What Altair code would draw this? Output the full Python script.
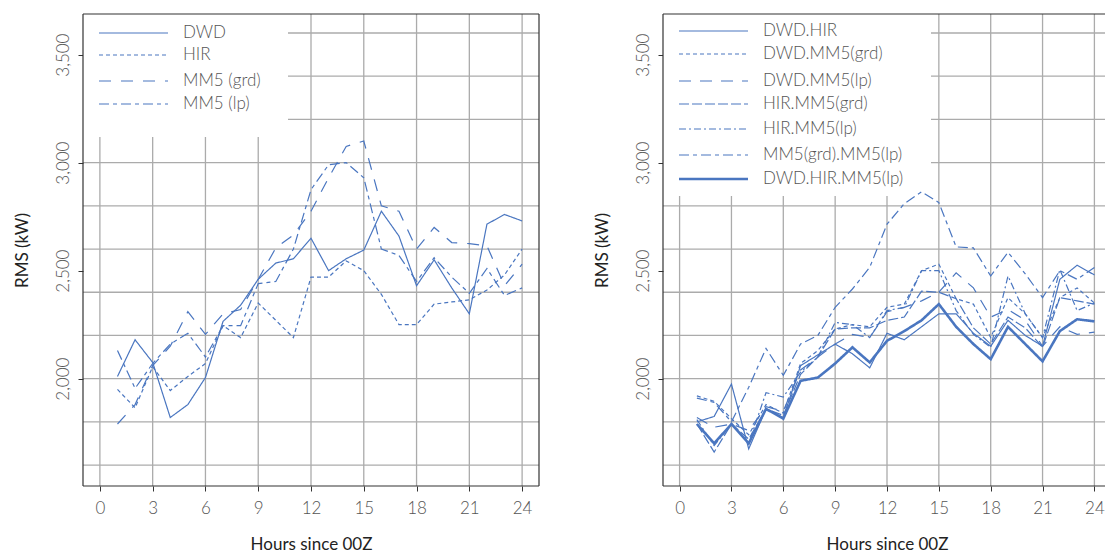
import altair as alt
import pandas as pd

# ---------------- data ----------------
hours = list(range(1, 25))

left_names = ["DWD", "HIR", "MM5 (grd)", "MM5 (lp)"]
dwd = [2010, 2180, 2075, 1820, 1880, 2005, 2265, 2340, 2460, 2535, 2555, 2650,
       2500, 2555, 2595, 2775, 2660, 2430, 2550, 2420, 2300, 2715, 2760, 2730]
hir = [1950, 1865, 2055, 1945, 2010, 2070, 2245, 2190, 2350, 2270, 2190, 2470,
       2470, 2545, 2500, 2390, 2250, 2250, 2345, 2355, 2365, 2410, 2480, 2600]
mm5_grd = [1790, 1880, 2060, 2150, 2310, 2205, 2300, 2320, 2460, 2605, 2665, 2775,
           2930, 3075, 3100, 2800, 2775, 2600, 2700, 2630, 2625, 2615, 2430, 2530]
mm5_lp = [2130, 1955, 2070, 2160, 2210, 2100, 2245, 2245, 2440, 2450, 2600, 2875,
          2990, 3000, 2930, 2600, 2570, 2450, 2560, 2470, 2395, 2510, 2385, 2420]

right_names = ["DWD.HIR", "DWD.MM5(grd)", "DWD.MM5(lp)", "HIR.MM5(grd)",
               "HIR.MM5(lp)", "MM5(grd).MM5(lp)", "DWD.HIR.MM5(lp)"]
dwd_hir = [1800, 1825, 1975, 1675, 1860, 1820, 2060, 2110, 2160, 2115, 2050, 2210,
           2180, 2240, 2300, 2300, 2210, 2150, 2270, 2200, 2150, 2460, 2525, 2480]
dwd_grd = [1920, 1895, 1815, 1740, 1880, 1840, 2070, 2130, 2230, 2250, 2240, 2330,
           2345, 2500, 2530, 2370, 2345, 2190, 2375, 2300, 2190, 2375, 2420, 2350]
dwd_lp = [1820, 1775, 1790, 1760, 1870, 1850, 2040, 2100, 2160, 2205, 2190, 2310,
          2330, 2360, 2400, 2490, 2420, 2285, 2320, 2270, 2150, 2240, 2205, 2215]
hir_grd = [1790, 1660, 1790, 1720, 1860, 1830, 2020, 2100, 2230, 2235, 2235, 2270,
           2285, 2405, 2400, 2370, 2235, 2160, 2285, 2235, 2145, 2375, 2360, 2345]
hir_lp = [1810, 1690, 1790, 1700, 1935, 1915, 2030, 2100, 2260, 2250, 2190, 2315,
          2330, 2500, 2500, 2315, 2205, 2145, 2475, 2300, 2190, 2505, 2315, 2350]
grd_lp = [1910, 1890, 1800, 1960, 2140, 2015, 2160, 2200, 2330, 2415, 2515, 2715,
          2810, 2865, 2815, 2610, 2605, 2475, 2585, 2485, 2375, 2500, 2460, 2515]
dwd_hir_lp = [1790, 1700, 1790, 1700, 1860, 1815, 1990, 2005, 2070, 2145, 2075, 2175,
              2220, 2270, 2345, 2240, 2160, 2090, 2240, 2160, 2080, 2220, 2275, 2265]

x_ticks = [0, 3, 6, 9, 12, 15, 18, 21, 24]
y_ticks = [2000, 2500, 3000, 3500]
y_grid = [1600, 1800, 2000, 2200, 2400, 2600, 2800, 3000, 3200, 3400, 3600]

# ---------------- style ----------------
LINE = "#4a76c0"
GRID = "#ababab"
BOX = "#333333"
FONT = "Lato"
Y_DOM = [1503, 3688]
H = 472
X_DOM = [-0.96, 24.96]

left_dashes = [[1, 0], [4, 3], [12, 10], [10, 4, 4, 4]]
left_widths = [1.2, 1.2, 1.2, 1.2]
right_dashes = [[1, 0], [4, 3], [12, 9], [10, 3], [7, 3, 2, 3], [10, 4, 4, 4], [1, 0]]
right_widths = [1.2, 1.2, 1.2, 1.2, 1.2, 1.2, 2.6]

X_AXIS = alt.Axis(values=x_ticks, title="Hours since 00Z", grid=False,
                  domain=False, tickSize=5, tickColor=BOX, tickWidth=1,
                  labelFont=FONT, labelFontSize=17, labelFontWeight=300,
                  labelColor="#555555", labelPadding=9, labelFlush=False,
                  labelOverlap=False, titleFont=FONT, titleFontSize=17,
                  titleFontWeight="normal", titleColor="#222222",
                  titlePadding=20)
Y_AXIS = alt.Axis(values=y_ticks, format=",.0f", title="RMS (kW)",
                  grid=False, domain=False, tickSize=5, tickColor=BOX,
                  tickWidth=1, labelAngle=-90, labelAlign="center",
                  labelBaseline="bottom", labelFont=FONT,
                  labelFontSize=17, labelFontWeight=300,
                  labelColor="#555555", labelPadding=6,
                  labelFlush=False, labelOverlap=False,
                  titleFont=FONT, titleFontSize=17,
                  titleFontWeight="normal", titleColor="#222222",
                  titlePadding=23)


def make_panel(names, series, dashes, widths, rows_y, box_w, box_h, W):
    xs = alt.Scale(domain=X_DOM, nice=False, zero=False)
    ys = alt.Scale(domain=Y_DOM, nice=False, zero=False)
    one = pd.DataFrame({"k": [0]})

    gx = alt.Chart(pd.DataFrame({"hour": x_ticks})).mark_rule(
        color=GRID, strokeWidth=1.3).encode(
        x=alt.X("hour:Q", scale=xs, axis=X_AXIS))
    gy = alt.Chart(pd.DataFrame({"rms": y_grid})).mark_rule(
        color=GRID, strokeWidth=1.3).encode(
        y=alt.Y("rms:Q", scale=ys, axis=Y_AXIS))

    box = alt.Chart(one).mark_rect(color="white").encode(
        x=alt.value(0), x2=alt.value(box_w), y=alt.value(0), y2=alt.value(box_h))

    layers = [gx, gy, box]

    for name, vals, dash, w in zip(names, series, dashes, widths):
        df = pd.DataFrame({"hour": hours, "rms": vals, "series": name})
        layers.append(alt.Chart(df).mark_line(
            color=LINE, strokeWidth=w, strokeDash=dash, clip=True).encode(
            x=alt.X("hour:Q", scale=xs, axis=X_AXIS),
            y=alt.Y("rms:Q", scale=ys, axis=Y_AXIS),
        ))

    for name, dash, w, ry in zip(names, dashes, widths, rows_y):
        lab = pd.DataFrame({"label": [name]})
        layers.append(alt.Chart(lab).mark_rule(
            color=LINE, strokeWidth=w, strokeDash=dash).encode(
            x=alt.value(16), x2=alt.value(85), y=alt.value(ry)))
        layers.append(alt.Chart(lab).mark_text(
            align="left", baseline="middle", font=FONT, fontSize=17,
            fontWeight=300, color="#555555").encode(
            x=alt.value(100), y=alt.value(ry), text="label:N"))

    # plot frame
    layers.append(alt.Chart(one).mark_rule(color=BOX, strokeWidth=1.2).encode(
        x=alt.value(0), y=alt.value(0), y2=alt.value(H)))
    layers.append(alt.Chart(one).mark_rule(color=BOX, strokeWidth=1.2).encode(
        x=alt.value(W), y=alt.value(0), y2=alt.value(H)))
    layers.append(alt.Chart(one).mark_rule(color=BOX, strokeWidth=1.2).encode(
        x=alt.value(0), x2=alt.value(W), y=alt.value(0)))
    layers.append(alt.Chart(one).mark_rule(color=BOX, strokeWidth=1.2).encode(
        x=alt.value(0), x2=alt.value(W), y=alt.value(H)))

    return alt.layer(*layers).properties(width=W, height=H)


left = make_panel(left_names, [dwd, hir, mm5_grd, mm5_lp], left_dashes,
                  left_widths, [19, 41, 67, 90], 205, 123, 456)
right = make_panel(right_names, [dwd_hir, dwd_grd, dwd_lp, hir_grd, hir_lp,
                                 grd_lp, dwd_hir_lp], right_dashes, right_widths,
                   [17, 40, 67, 90, 115, 141, 165], 268, 182, 448)

chart = alt.hconcat(left, right, spacing=53).properties(
    padding={"left": 5, "top": 5, "right": -7, "bottom": 0}
).configure_view(stroke=None)

chart.save("out.html", embed_options={"renderer": "svg", "actions": False})
